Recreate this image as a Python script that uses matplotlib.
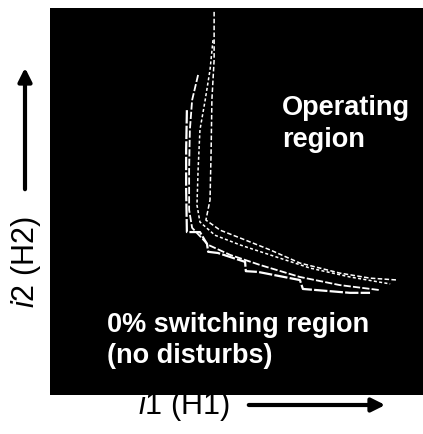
import matplotlib
matplotlib.use("Agg")
import matplotlib.pyplot as plt

plt.rcParams['font.family'] = ['Liberation Sans', 'DejaVu Sans']
plt.rcParams['mathtext.fontset'] = 'custom'
plt.rcParams['mathtext.it'] = 'Liberation Sans:italic'
plt.rcParams['mathtext.rm'] = 'Liberation Sans'

# switching boundaries (i1, i2), arbitrary units 0-100
c1_i1 = [44.0, 44.0, 43.4, 43.2, 42.9, 41.8, 45.6, 50.9, 59.0, 67.0, 77.7, 85.8, 93.3]
c1_i2 = [99.0, 86.6, 76.2, 63.3, 50.4, 45.2, 42.6, 40.6, 37.5, 34.1, 31.5, 30.2, 29.7]

c2_i1 = [43.7, 42.9, 41.6, 40.2, 39.7, 39.4, 40.2, 44.2, 50.9, 59.0, 69.7, 80.4, 91.2]
c2_i2 = [91.7, 84.0, 76.2, 68.5, 58.1, 49.1, 44.7, 41.3, 38.8, 36.2, 32.8, 30.5, 28.7]

c3_i1 = [39.7, 38.1, 37.5, 37.3, 37.3, 38.1, 42.4, 48.3, 56.3, 67.0, 77.7, 88.5]
c3_i2 = [82.7, 76.2, 68.5, 58.1, 47.8, 43.2, 38.8, 36.2, 33.6, 30.5, 28.4, 27.1]

c4_i1 = [36.7, 36.5, 36.5, 36.7, 40.2, 42.1, 42.4, 45.0, 52.3, 52.5, 55.8, 67.0, 67.8, 71.6, 80.4, 85.8]
c4_i2 = [73.6, 63.3, 53.0, 42.1, 42.1, 39.0, 37.0, 36.7, 34.4, 32.0, 31.8, 29.7, 27.4, 27.1, 26.4, 26.4]

fig = plt.figure(figsize=(4.23, 4.34), dpi=100)
ax = fig.add_axes([50 / 423, 39 / 434, 373 / 423, 387 / 434])
ax.set_facecolor('black')
ax.set_xlim(0, 100)
ax.set_ylim(0, 100)
ax.set_xticks([])
ax.set_yticks([])
for s in ax.spines.values():
    s.set_visible(False)

ax.plot(c1_i1, c1_i2, color='white', lw=1.1, ls=(0, (3, 1.5)))
ax.plot(c2_i1, c2_i2, color='white', lw=1.1, ls=(0, (2, 1.5)))
ax.plot(c3_i1, c3_i2, color='white', lw=1.3, ls=(0, (4, 1.2)))
ax.plot(c4_i1, c4_i2, color='white', lw=1.6, ls=(0, (6, 1)))

ax.text(62.2, 70, 'Operating\nregion', color='white', fontsize=19.5,
        fontweight='bold', ha='left', va='center', linespacing=1.3)
ax.text(15.3, 14, '0% switching region\n(no disturbs)', color='white',
        fontsize=19.5, fontweight='bold', ha='left', va='center', linespacing=1.25)

# axis labels with arrows
fig.text(26 / 423, 1 - 262 / 434, r'$i2$ (H2)', rotation=90, fontsize=22,
         ha='center', va='center')
fig.text(184 / 423, 1 - 406 / 434, r'$i1$ (H1)', fontsize=22,
         ha='center', va='center')
arrow = dict(arrowstyle='-|>,head_length=0.8,head_width=0.4', color='black', lw=3)
ax.annotate('', xy=(25, 434 - 65), xytext=(25, 434 - 192), xycoords='figure pixels',
            textcoords='figure pixels', arrowprops=arrow, annotation_clip=False)
ax.annotate('', xy=(388, 434 - 405), xytext=(246, 434 - 405), xycoords='figure pixels',
            textcoords='figure pixels', arrowprops=arrow, annotation_clip=False)

fig.savefig('out.png', dpi=100, facecolor='white')
